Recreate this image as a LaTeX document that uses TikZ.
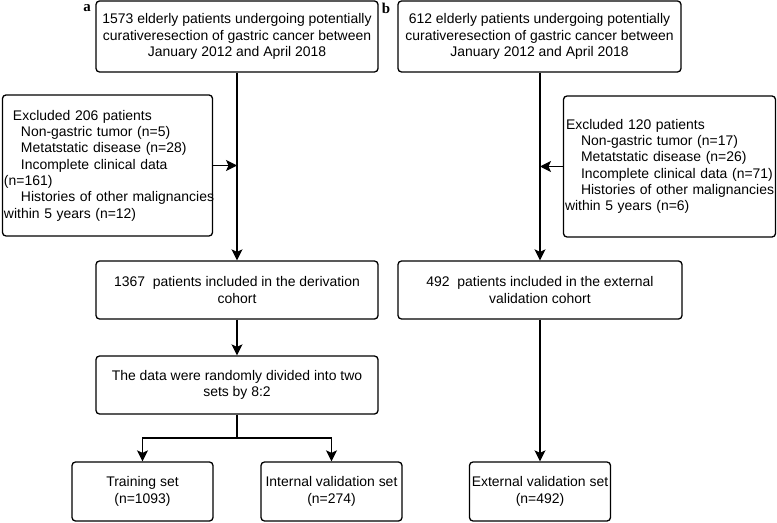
\documentclass[tikz,border=0pt]{standalone}
\usepackage{fontspec}
\setmainfont{Liberation Sans}
\newfontfamily\labelserif{Liberation Serif}
\usetikzlibrary{arrows.meta,positioning}
\tikzset{
  box/.style={draw=black, line width=1.3bp, rounded corners=3.5bp, align=center,
    inner sep=1bp, font=\fontsize{14}{16.4}\selectfont},
  exbox/.style={box, align=left, inner xsep=1.5bp},
  conn/.style={line width=1.4bp, draw=black},
  arr/.style={conn, -{Stealth[length=11bp,width=11bp,inset=2.5bp]}},
  panel/.style={font=\labelserif\bfseries\fontsize{15}{15}\selectfont, inner sep=0pt}
}
\begin{document}
\begin{tikzpicture}[x=1bp,y=-1bp]
\useasboundingbox[fill=white] (0,0) rectangle (777,523);

\node[panel] (la) at (87,8) {a};
\node[panel] (lb) at (386,8) {b};

\node[box, minimum width=282bp, minimum height=71bp] (A1) at (237,36.5)
  {1573 elderly patients undergoing potentially\\curativeresection of gastric cancer between\\January 2012 and April 2018};
\node[box, minimum width=283bp, minimum height=71bp] (B1) at (539.5,36.5)
  {612 elderly patients undergoing potentially\\curativeresection of gastric cancer between\\January 2012 and April 2018};

\node[exbox, text width=207bp, minimum height=141bp] (EA) at (107.5,165.5)
  {\mbox{\hspace*{9bp}Excluded 206 patients}\\
   \mbox{\hspace*{17bp}Non-gastric tumor (n=5)}\\
   \mbox{\hspace*{17bp}Metatstatic disease (n=28)}\\
   \mbox{\hspace*{17bp}Incomplete clinical data}\\
   \mbox{(n=161)}\\
   \mbox{\hspace*{17bp}Histories of other malignancies}\\
   \mbox{within 5 years (n=12)}};
\node[exbox, text width=209bp, minimum height=141bp] (EB) at (669.5,166.5)
  {\mbox{\hspace*{1bp}Excluded 120 patients}\\
   \mbox{\hspace*{16bp}Non-gastric tumor (n=17)}\\
   \mbox{\hspace*{16bp}Metatstatic disease (n=26)}\\
   \mbox{\hspace*{16bp}Incomplete clinical data (n=71)}\\
   \mbox{\hspace*{16bp}Histories of other malignancies}\\
   \mbox{within 5 years (n=6)}};

\node[box, minimum width=282bp, minimum height=58bp] (A2) at (237,290)
  {1367\ \ patients included in the derivation\\cohort};
\node[box, minimum width=284bp, minimum height=58bp] (B2) at (540,290)
  {492\ \ patients included in the external\\validation cohort};

\node[box, minimum width=282bp, minimum height=58bp] (A3) at (237,385)
  {The data were randomly divided into two\\sets by 8:2};

\node[box, minimum width=141bp, minimum height=59bp] (T) at (142.5,491.5)
  {Training set\\(n=1093)};
\node[box, minimum width=141bp, minimum height=59bp] (I) at (331.5,491.5)
  {Internal validation set\\(n=274)};
\node[box, minimum width=141bp, minimum height=59bp] (E) at (540,491.5)
  {External validation set\\(n=492)};

\coordinate (split) at (237,438);

\draw[arr] (A1.south) -- (A2.north);
\draw[arr] (EA.east) -- (EA.east -| A1.south);
\draw[arr] (B1.south -| B2.north) -- (B2.north);
\draw[arr] (EB.west) -- (EB.west -| B2.north);
\draw[arr] (A2.south) -- (A3.north);
\draw[conn] (A3.south) -- (split);
\draw[arr] (split) -| (T.north);
\draw[arr] (split) -| (I.north);
\draw[arr] (B2.south) -- (E.north);
\end{tikzpicture}
\end{document}
